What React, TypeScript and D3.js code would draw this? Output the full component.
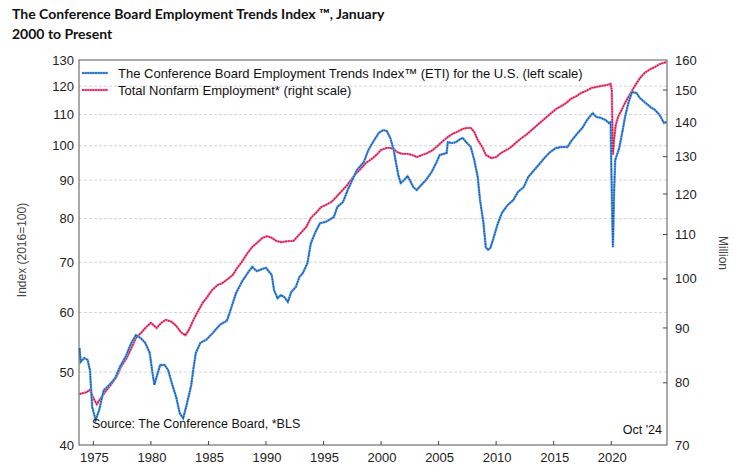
import React, { useEffect, useRef } from 'react';
import * as d3 from 'd3';

// ETI (left scale, 2016=100)
const etiYears = [1973.8, 1973.9, 1974.2, 1974.5, 1974.7, 1974.9, 1975.2, 1975.5, 1975.9, 1976.4, 1976.9, 1977.3, 1977.8, 1978.3, 1978.7, 1979.1, 1979.5, 1979.9, 1980.1, 1980.3, 1980.5, 1980.8, 1981.2, 1981.5, 1981.8, 1982.2, 1982.5, 1982.8, 1983.1, 1983.5, 1983.7, 1983.9, 1984.3, 1984.8, 1985.4, 1986.0, 1986.6, 1987.0, 1987.4, 1987.9, 1988.4, 1988.8, 1989.2, 1989.7, 1990.0, 1990.5, 1990.7, 1991.0, 1991.3, 1991.6, 1991.9, 1992.2, 1992.6, 1992.9, 1993.2, 1993.6, 1993.9, 1994.3, 1994.7, 1995.2, 1995.9, 1996.2, 1996.7, 1997.1, 1997.5, 1997.9, 1998.5, 1998.9, 1999.3, 1999.8, 2000.2, 2000.5, 2000.8, 2001.1, 2001.3, 2001.5, 2001.7, 2002.0, 2002.3, 2002.5, 2002.8, 2003.1, 2003.5, 2003.9, 2004.4, 2004.8, 2005.1, 2005.7, 2005.8, 2006.2, 2006.5, 2006.9, 2007.1, 2007.4, 2007.8, 2008.1, 2008.4, 2008.6, 2008.9, 2009.1, 2009.3, 2009.5, 2009.8, 2010.1, 2010.5, 2011.0, 2011.5, 2011.9, 2012.4, 2012.8, 2013.3, 2013.7, 2014.2, 2014.7, 2015.2, 2015.7, 2016.2, 2016.6, 2017.1, 2017.5, 2017.9, 2018.4, 2018.7, 2019.1, 2019.5, 2019.8, 2019.95, 2020.05, 2020.15, 2020.25, 2020.35, 2020.5, 2020.7, 2021.0, 2021.2, 2021.5, 2021.8, 2022.2, 2022.5, 2022.9, 2023.4, 2023.8, 2024.2, 2024.6, 2024.8];
const etiValues = [53.8, 51.6, 52.2, 51.9, 50.3, 44.9, 43.2, 44.5, 47.3, 48.1, 49.1, 50.8, 52.4, 54.7, 56.0, 55.5, 54.7, 53.0, 50.3, 48.1, 49.3, 51.1, 51.1, 50.3, 48.4, 46.3, 44.1, 43.4, 45.2, 48.0, 50.6, 53.0, 54.7, 55.2, 56.4, 57.8, 58.5, 61.0, 63.7, 65.9, 67.7, 69.0, 68.1, 68.6, 68.8, 67.3, 64.3, 62.7, 63.3, 62.9, 62.0, 63.9, 64.9, 66.9, 67.7, 69.8, 74.2, 76.8, 78.9, 79.2, 80.4, 82.9, 84.2, 87.3, 90.0, 92.8, 95.1, 98.7, 101.1, 104.0, 104.9, 104.6, 102.4, 98.7, 94.9, 91.4, 89.2, 90.0, 91.1, 90.0, 88.1, 87.3, 88.7, 90.0, 92.3, 94.9, 97.2, 97.8, 101.1, 100.8, 101.1, 102.1, 102.4, 101.1, 99.6, 95.7, 90.9, 84.7, 78.9, 73.3, 72.7, 73.1, 75.6, 78.4, 81.4, 83.4, 84.7, 86.8, 88.1, 90.9, 92.8, 94.3, 96.3, 98.1, 99.3, 99.6, 99.6, 101.8, 104.0, 105.6, 108.2, 110.5, 109.2, 108.9, 108.2, 107.2, 107.5, 86.8, 73.3, 86.5, 95.7, 97.2, 99.3, 104.9, 109.2, 114.0, 117.9, 117.5, 115.7, 114.3, 112.6, 111.6, 109.9, 107.2, 107.5];

// Total nonfarm employment, millions (right scale)
const empYears = [1973.8, 1974.4, 1974.7, 1975.0, 1975.3, 1975.6, 1976.0, 1976.5, 1977.0, 1977.4, 1977.9, 1978.3, 1978.7, 1979.2, 1979.6, 1980.0, 1980.5, 1980.9, 1981.3, 1981.8, 1982.2, 1982.6, 1983.0, 1983.3, 1983.7, 1984.0, 1984.5, 1984.9, 1985.3, 1985.8, 1986.2, 1986.6, 1987.1, 1987.5, 1987.9, 1988.4, 1988.8, 1989.2, 1989.7, 1990.1, 1990.5, 1990.9, 1991.3, 1992.1, 1992.4, 1992.7, 1993.1, 1993.5, 1993.9, 1994.4, 1994.8, 1995.2, 1995.7, 1996.1, 1996.5, 1997.0, 1997.4, 1997.8, 1998.3, 1998.7, 1999.2, 1999.6, 2000.0, 2000.5, 2000.7, 2001.1, 2001.4, 2001.8, 2002.3, 2002.7, 2003.1, 2003.6, 2004.0, 2004.5, 2004.9, 2005.3, 2005.8, 2006.2, 2006.6, 2007.1, 2007.5, 2007.8, 2008.1, 2008.4, 2008.8, 2009.1, 2009.6, 2010.0, 2010.4, 2010.9, 2011.3, 2011.8, 2012.2, 2012.6, 2013.1, 2013.5, 2013.9, 2014.4, 2014.8, 2015.2, 2015.7, 2016.1, 2016.5, 2017.0, 2017.4, 2017.8, 2018.3, 2018.7, 2019.1, 2019.6, 2019.95, 2020.05, 2020.15, 2020.25, 2020.4, 2020.6, 2020.9, 2021.2, 2021.7, 2022.1, 2022.5, 2022.9, 2023.4, 2023.8, 2024.2, 2024.8];
const empValues = [78.1, 78.4, 78.8, 77.4, 76.4, 77.3, 78.4, 79.6, 81.0, 82.8, 84.4, 86.2, 88.1, 89.2, 90.2, 91.0, 90.0, 91.0, 91.6, 91.2, 90.4, 89.2, 88.6, 89.6, 91.6, 92.9, 95.0, 96.2, 97.6, 98.7, 99.1, 99.8, 100.8, 102.4, 103.7, 105.7, 107.1, 108.0, 109.2, 109.6, 109.2, 108.5, 108.2, 108.5, 108.5, 109.4, 110.6, 111.8, 114.0, 115.4, 116.7, 117.2, 118.0, 119.2, 120.5, 122.1, 123.7, 125.3, 126.9, 128.3, 129.4, 130.5, 131.9, 132.5, 132.5, 132.2, 131.3, 130.8, 130.8, 130.5, 129.9, 130.5, 131.0, 131.9, 133.0, 134.2, 135.6, 136.5, 137.1, 138.0, 138.3, 138.3, 137.1, 134.8, 132.7, 130.5, 129.6, 129.9, 131.0, 131.9, 132.7, 134.2, 135.3, 136.2, 137.7, 138.9, 140.1, 141.6, 142.8, 144.0, 145.0, 145.9, 147.2, 148.1, 149.1, 149.7, 150.7, 151.0, 151.3, 151.6, 152.0, 150.0, 130.5, 134.8, 139.2, 141.6, 143.7, 145.9, 149.1, 151.6, 153.9, 155.6, 156.9, 157.6, 158.6, 159.3];

const leftTicks = [40, 50, 60, 70, 80, 90, 100, 110, 120, 130];
const rightTicks = [70, 80, 90, 100, 110, 120, 130, 140, 150, 160];
const yearTicks = [1975, 1980, 1985, 1990, 1995, 2000, 2005, 2010, 2015, 2020];

const W = 740, H = 472;
const left = 79, right = 667, top = 60, bottom = 445;
const blue = '#0f5fbf', blueLight = '#7fb0e8';
const red = '#dc0f4b', redLight = '#f29ab4';
const axisFont = '"Liberation Sans", Arial, sans-serif';

export default function App() {
	const ref = useRef<SVGSVGElement>(null);
	useEffect(() => drawChart(), []);

	function drawChart() {
		const svg = d3.select(ref.current);
		svg.selectAll('*').remove();

		const x = d3.scaleLinear().domain([1973.75, 2024.85]).range([left, right]);
		const yL = d3.scaleLog().domain([40, 130]).range([bottom, top]);
		const yR = d3.scaleLog().domain([70, 160]).range([bottom, top]);

		svg.append('rect').attr('width', W).attr('height', H).attr('fill', '#fff');

		// title
		const title = svg.append('text').attr('font-family', 'Lato, "Open Sans", sans-serif')
			.attr('font-weight', 700).attr('font-size', 14).attr('fill', '#111');
		title.append('tspan').attr('x', 12).attr('y', 19).text('The Conference Board Employment Trends Index ™, January');
		title.append('tspan').attr('x', 12).attr('y', 39).text('2000 to Present');

		// grid
		svg.append('g').selectAll('line')
			.data(leftTicks.filter(t => t > 40 && t < 130))
			.enter().append('line')
			.attr('x1', left).attr('x2', right)
			.attr('y1', d => yL(d)).attr('y2', d => yL(d))
			.attr('stroke', '#d4d4d4').attr('stroke-dasharray', '3,2').attr('stroke-width', 1);

		// left axis labels
		svg.append('g').selectAll('text').data(leftTicks).enter().append('text')
			.attr('x', 74).attr('y', d => yL(d)).attr('dy', '0.35em')
			.attr('text-anchor', 'end').attr('font-family', axisFont).attr('font-size', 13).attr('fill', '#222')
			.text(d => d);

		// right axis ticks + labels
		svg.append('g').selectAll('line').data(rightTicks.filter(t => t > 70 && t < 160)).enter().append('line')
			.attr('x1', right - 4).attr('x2', right).attr('y1', d => yR(d)).attr('y2', d => yR(d))
			.attr('stroke', '#444');
		svg.append('g').selectAll('text').data(rightTicks).enter().append('text')
			.attr('x', 675).attr('y', d => yR(d)).attr('dy', '0.35em')
			.attr('font-family', axisFont).attr('font-size', 13).attr('fill', '#222')
			.text(d => d);

		// bottom ticks + labels
		svg.append('g').selectAll('line').data(yearTicks).enter().append('line')
			.attr('x1', d => x(d)).attr('x2', d => x(d)).attr('y1', bottom - 4).attr('y2', bottom)
			.attr('stroke', '#444');
		svg.append('g').selectAll('text').data(yearTicks).enter().append('text')
			.attr('x', d => x(d) + 1).attr('y', 462).attr('text-anchor', 'middle')
			.attr('font-family', axisFont).attr('font-size', 13).attr('fill', '#222')
			.text(d => d);

		// axis titles
		svg.append('text').attr('transform', 'translate(26,250) rotate(-90)').attr('text-anchor', 'middle')
			.attr('font-family', axisFont).attr('font-size', 12).attr('fill', '#444').text('Index (2016=100)');
		svg.append('text').attr('transform', 'translate(719,253) rotate(90)').attr('text-anchor', 'middle')
			.attr('font-family', axisFont).attr('font-size', 12).attr('fill', '#444').text('Million');

		// series
		const etiLine = d3.line<number>().x((d, i) => x(etiYears[i])).y(d => yL(d));
		const empLine = d3.line<number>().x((d, i) => x(empYears[i])).y(d => yR(d));
		const drawSeries = (path: string | null, dark: string, light: string) => {
			svg.append('path').attr('d', path).attr('fill', 'none').attr('stroke', light).attr('stroke-width', 2.4);
			svg.append('path').attr('d', path).attr('fill', 'none').attr('stroke', dark).attr('stroke-width', 1.5)
				.attr('stroke-dasharray', '2,0.6');
		};
		drawSeries(empLine(empValues), red, redLight);
		drawSeries(etiLine(etiValues), blue, blueLight);

		// frame
		svg.append('rect').attr('x', left).attr('y', top).attr('width', right - left).attr('height', bottom - top)
			.attr('fill', 'none').attr('stroke', '#555').attr('stroke-width', 1);

		// legend
		const legend = [
			{ label: 'The Conference Board Employment Trends Index™ (ETI) for the U.S. (left scale)', dark: blue, light: blueLight, y: 73 },
			{ label: 'Total Nonfarm Employment* (right scale)', dark: red, light: redLight, y: 90 },
		];
		legend.forEach(l => {
			svg.append('line').attr('x1', 82).attr('x2', 108).attr('y1', l.y).attr('y2', l.y)
				.attr('stroke', l.light).attr('stroke-width', 2.4);
			svg.append('line').attr('x1', 82).attr('x2', 108).attr('y1', l.y).attr('y2', l.y)
				.attr('stroke', l.dark).attr('stroke-width', 1.5).attr('stroke-dasharray', '2,0.6');
			svg.append('text').attr('x', 118).attr('y', l.y).attr('dy', '0.35em')
				.attr('font-family', axisFont).attr('font-size', 13).attr('fill', '#111').text(l.label);
		});

		// notes
		svg.append('text').attr('x', 92).attr('y', 428).attr('font-family', axisFont).attr('font-size', 12.5)
			.attr('fill', '#111').text('Source:  The Conference Board, *BLS');
		svg.append('text').attr('x', 662).attr('y', 434).attr('text-anchor', 'end').attr('font-family', axisFont)
			.attr('font-size', 12.5).attr('fill', '#111').text("Oct '24");
	}

	return <svg ref={ref} width={W} height={H} style={{ position: 'absolute', left: 0, top: 0 }} />;
}
